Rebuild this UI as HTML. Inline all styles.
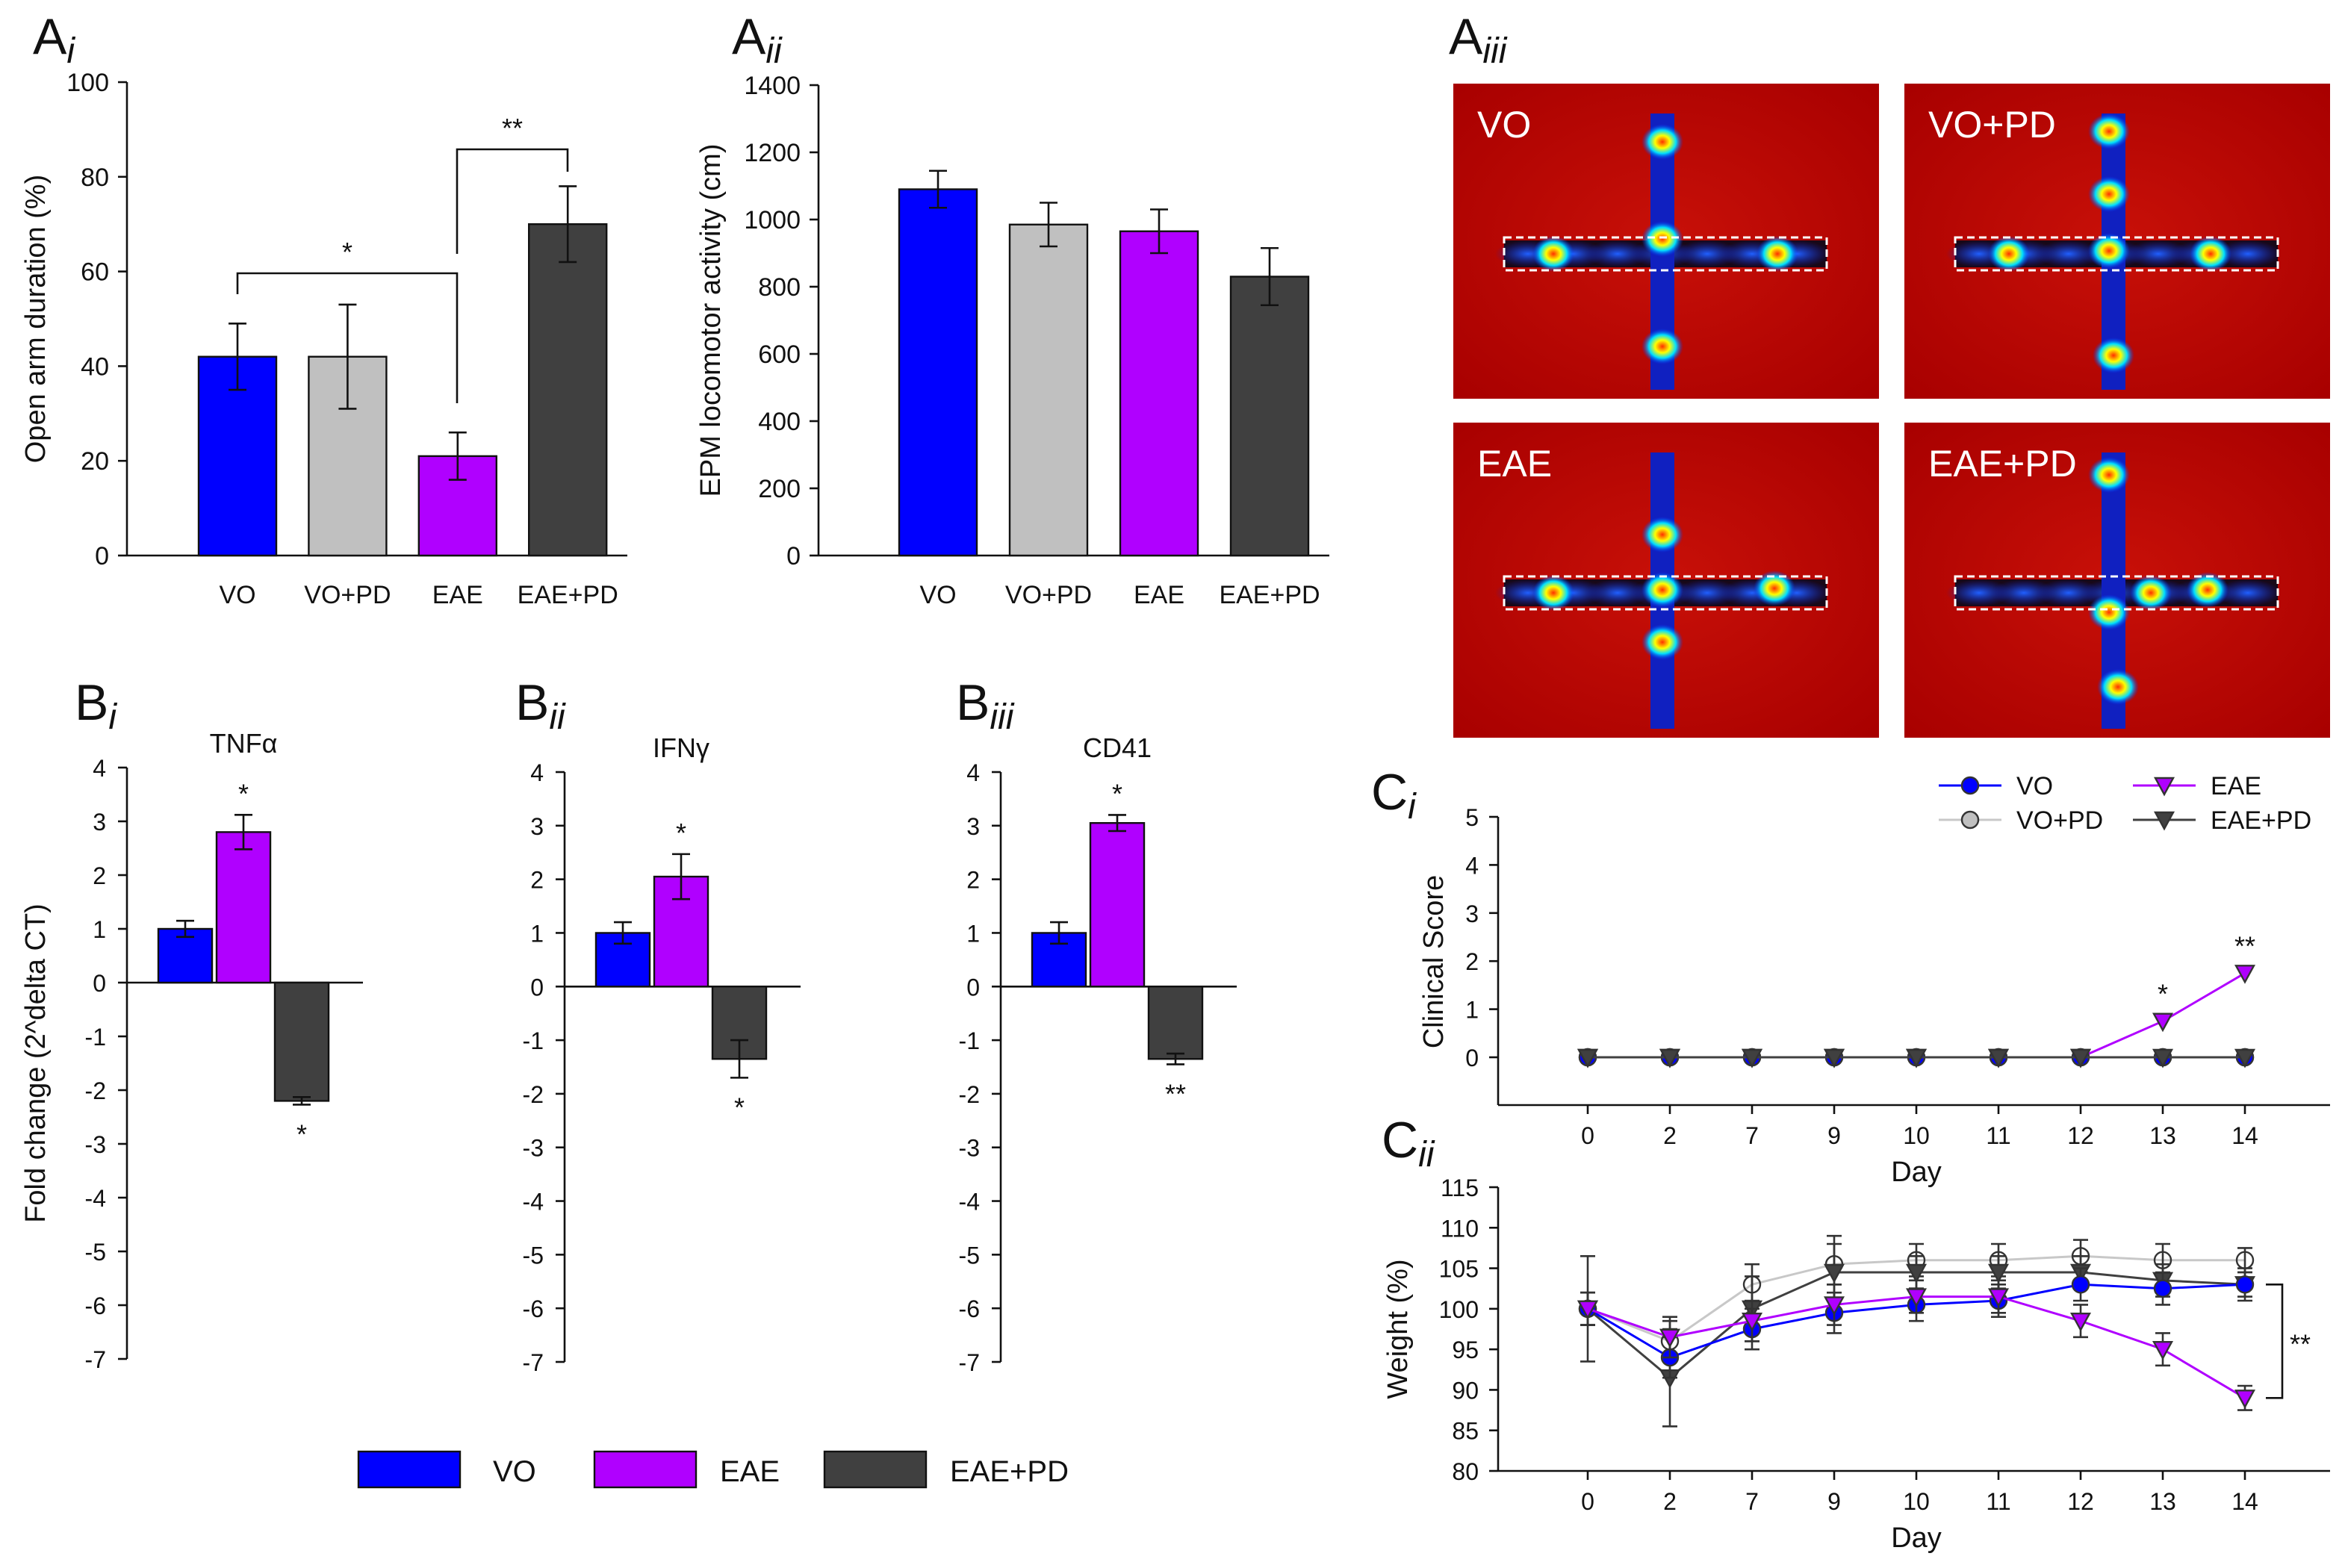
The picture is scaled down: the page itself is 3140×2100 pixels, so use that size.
<!DOCTYPE html>
<html><head><meta charset="utf-8"><style>
html,body{margin:0;padding:0;background:#fff}
svg{display:block}
text{font-family:"Liberation Sans",sans-serif;fill:#111}
</style></head><body>
<svg id="root" width="3140" height="2100" viewBox="0 0 1570 1050">
<defs>
<radialGradient id="redbg" cx="50%" cy="50%" r="70%"><stop offset="0" stop-color="#c81008"/><stop offset="1" stop-color="#a80000"/></radialGradient>
<radialGradient id="hot"><stop offset="0" stop-color="#ff3000"/><stop offset="0.35" stop-color="#ffff00"/><stop offset="0.65" stop-color="#00e0ff"/><stop offset="1" stop-color="#0030ff" stop-opacity="0"/></radialGradient>
<radialGradient id="blueblob"><stop offset="0" stop-color="#2060ff"/><stop offset="1" stop-color="#1020c0" stop-opacity="0"/></radialGradient>
</defs>
<g id="g"></g>
</svg>
<script>
const NS='http://www.w3.org/2000/svg';
const G=document.getElementById('g');
function mk(tag,attrs,parent,txt){const e=document.createElementNS(NS,tag);for(const k in attrs)e.setAttribute(k,attrs[k]);if(txt!==undefined)e.textContent=txt;(parent||G).appendChild(e);return e;}
const COL={VO:'#0000ff','VO+PD':'#c0c0c0',EAE:'#b000ff','EAE+PD':'#404040'};

// ---- data ----
const groupsA=['VO','VO+PD','EAE','EAE+PD'];
const openArm=[42,42,21,70];
const openArmErr=[7,11,5,8];
const openTicks=[0,20,40,60,80,100];
const loco=[1090,985,965,830];
const locoErr=[55,65,65,85];
const locoTicks=[0,200,400,600,800,1000,1200,1400];
const groupsB=['VO','EAE','EAE+PD'];
const tnf=[1,2.8,-2.2];
const tnfErr=[0.15,0.32,0.07];
const ifn=[1,2.05,-1.35];
const ifnErr=[0.2,0.42,0.35];
const cd41=[1,3.05,-1.35];
const cd41Err=[0.2,0.15,0.1];
const foldTicks=[4,3,2,1,0,-1,-2,-3,-4,-5,-6,-7];
const days=['0','2','7','9','10','11','12','13','14'];
const clinVO=[0,0,0,0,0,0,0,0,0];
const clinVOPD=[0,0,0,0,0,0,0,0,0];
const clinEAE=[0,0,0,0,0,0,0,0.75,1.75];
const clinEAEPD=[0,0,0,0,0,0,0,0,0];
const clinTicks=[0,1,2,3,4,5];
const wVO=[100,94,97.5,99.5,100.5,101,103,102.5,103];
const wVOPD=[100,96,103,105.5,106,106,106.5,106,106];
const wEAE=[100,96.5,98.5,100.5,101.5,101.5,98.5,95,89];
const wEAEPD=[100,91.5,100,104.5,104.5,104.5,104.5,103.5,103];
const wErr=[2,2.5,2.5,2.5,2,2,2,2,1.5];
const wErrPD=[6.5,6,4,4.5,2,2,2,2,2];
const wTicks=[80,85,90,95,100,105,110,115];

function panelLabel(x,y,main,sub,name){const t=mk('text',{x:x,y:y,'font-size':34,});t.textContent=main;mk('tspan',{'font-size':24,'font-style':'italic',dy:6},t,sub);return t;}

function errbar(x,y1,y2,w,color){mk('line',{x1:x,x2:x,y1:y1,y2:y2,stroke:color||'#111','stroke-width':1.3});mk('line',{x1:x-w,x2:x+w,y1:y1,y2:y1,stroke:color||'#111','stroke-width':1.3});mk('line',{x1:x-w,x2:x+w,y1:y2,y2:y2,stroke:color||'#111','stroke-width':1.3});}

function barPanel(o){
  const y=v=>o.y0-(v-o.vmin)/(o.vmax-o.vmin)*(o.y0-o.y1);
  mk('line',{x1:o.ax,x2:o.ax,y1:o.y1,y2:o.y0,stroke:'#111','stroke-width':1.3,});
  mk('line',{x1:o.ax,x2:o.xend,y1:o.y0,y2:o.y0,stroke:'#111','stroke-width':1.3,});
  o.ticks.forEach(t=>{mk('line',{x1:o.ax-6,x2:o.ax,y1:y(t),y2:y(t),stroke:'#111','stroke-width':1.3});
    const e=mk('text',{x:o.ax-12,y:y(t)+6,'text-anchor':'end','font-size':17},undefined,t);});
  o.vals.forEach((v,i)=>{const cx=o.cx0+i*o.dx;
    const r=mk('rect',{x:cx-o.bw/2,y:y(v),width:o.bw,height:o.y0-y(v),fill:COL[o.groups[i]],stroke:'#111','stroke-width':1.2});
    
    errbar(cx,y(v+o.err[i]),y(v-o.err[i]),6);
    const l=mk('text',{x:cx,y:o.y0+32,'text-anchor':'middle','font-size':17},undefined,o.groups[i]);
    });
  const tt=mk('text',{x:o.tx,y:(o.y0+o.y1)/2,'text-anchor':'middle','font-size':19,transform:`rotate(-90 ${o.tx} ${(o.y0+o.y1)/2})`},undefined,o.title);
  
  return y;
}
panelLabel(22,36,'A','i','panel-label-ai');
barPanel({name:'open-arm',ax:85,y0:372,y1:55,vmin:0,vmax:100,xend:420,ticks:openTicks,vals:openArm,err:openArmErr,groups:groupsA,cx0:159,dx:73.7,bw:52,tx:30,title:'Open arm duration (%)'});
function bracket(x1,x2,yy,d1,d2,lab){mk('path',{d:`M${x1},${d1} L${x1},${yy} L${x2},${yy} L${x2},${d2}`,fill:'none',stroke:'#111','stroke-width':1.3,});mk('text',{x:(x1+x2)/2,y:yy-8,'text-anchor':'middle','font-size':18,},undefined,lab);}
bracket(159,306,183,197,270,'*');
bracket(306,380,100,170,115,'**');

panelLabel(490,36,'A','ii','panel-label-aii');
barPanel({name:'locomotor',ax:548,y0:372,y1:57,vmin:0,vmax:1400,xend:890,ticks:locoTicks,vals:loco,err:locoErr,groups:groupsA,cx0:628,dx:74,bw:52,tx:482,title:'EPM locomotor activity (cm)'});

panelLabel(970,36,'A','iii','panel-label-aiii');
const maps=[{l:'VO',x:973,y:56,spots:[[1113,95],[1113,160],[1040,170],[1190,170],[1113,232]]},
{l:'VO+PD',x:1275,y:56,spots:[[1412,88],[1412,130],[1345,170],[1412,168],[1480,170],[1415,238]]},
{l:'EAE',x:973,y:283,spots:[[1113,358],[1040,397],[1113,395],[1188,394],[1113,430]]},
{l:'EAE+PD',x:1275,y:283,spots:[[1412,318],[1440,397],[1478,395],[1412,410],[1418,460]]}];
maps.forEach(m=>{const g=mk('g',{});
  mk('rect',{x:m.x,y:m.y,width:285,height:211,fill:'url(#redbg)'},g);
  const cx=m.x+140,cy=m.y+114;
  mk('rect',{x:m.x+34,y:cy-9,width:216,height:18,fill:'#180818'},g);
  for(let k=0;k<7;k++)mk('ellipse',{cx:m.x+50+k*30,cy:cy,rx:22,ry:9,fill:'url(#blueblob)'},g);
  mk('rect',{x:cx-8,y:m.y+20,width:16,height:185,fill:'#1020c0'},g);
  m.spots.forEach(s=>mk('ellipse',{cx:s[0],cy:s[1],rx:14,ry:12,fill:'url(#hot)'},g));
  mk('rect',{x:m.x+34,y:cy-11,width:216,height:22,fill:'none',stroke:'#fff','stroke-width':1.5,'stroke-dasharray':'5,3'},g);
  mk('text',{x:m.x+16,y:m.y+36,'font-size':25,style:'fill:#fff'},g,m.l);});

function foldPanel(o){
  const y0=o.ytop,y1=o.ybot;const y=v=>y0+(4-v)/11*(y1-y0);
  mk('line',{x1:o.ax,x2:o.ax,y1:y0,y2:y1,stroke:'#111','stroke-width':1.3,});
  mk('line',{x1:o.ax,x2:o.ax+158,y1:y(0),y2:y(0),stroke:'#111','stroke-width':1.3,});
  foldTicks.forEach(t=>{mk('line',{x1:o.ax-6,x2:o.ax,y1:y(t),y2:y(t),stroke:'#111','stroke-width':1.3});
    const e=mk('text',{x:o.ax-14,y:y(t)+6,'text-anchor':'end','font-size':16},undefined,t);});
  o.vals.forEach((v,i)=>{const cx=o.ax+39+i*39;const top=Math.min(y(v),y(0)),h=Math.abs(y(v)-y(0));
    const r=mk('rect',{x:cx-18,y:top,width:36,height:h,fill:COL[groupsB[i]],stroke:'#111','stroke-width':1.2});
    
    errbar(cx,y(v+o.err[i]),y(v-o.err[i]),6);});
  o.stars.forEach(s=>{const v=o.vals[s[0]],cx=o.ax+39+s[0]*39;const yy=v>0?y(v+o.err[s[0]])-8:y(v-o.err[s[0]])+26;
    mk('text',{x:cx,y:yy,'text-anchor':'middle','font-size':18,},undefined,s[1]);});
  mk('text',{x:o.ax+78,y:o.ytop-10,'text-anchor':'middle','font-size':18,},undefined,o.title);
}
panelLabel(50,482,'B','i','panel-label-bi');
panelLabel(345,482,'B','ii','panel-label-bii');
panelLabel(640,482,'B','iii','panel-label-biii');
foldPanel({name:'tnf',ax:85,ytop:514,ybot:910,vals:tnf,err:tnfErr,stars:[[1,'*'],[2,'*']],title:'TNFα'});
foldPanel({name:'ifn',ax:378,ytop:517,ybot:912,vals:ifn,err:ifnErr,stars:[[1,'*'],[2,'*']],title:'IFNγ'});
foldPanel({name:'cd41',ax:670,ytop:517,ybot:912,vals:cd41,err:cd41Err,stars:[[1,'*'],[2,'**']],title:'CD41'});
mk('text',{x:30,y:712,'text-anchor':'middle','font-size':19,transform:'rotate(-90 30 712)',},undefined,'Fold change (2^delta CT)');
[['VO',240,330],['EAE',398,482],['EAE+PD',552,636]].forEach(l=>{const g=mk('g',{});
  mk('rect',{x:l[1],y:972,width:68,height:24,fill:COL[l[0]],stroke:'#111','stroke-width':1.2},g);
  mk('text',{x:l[2],y:992,'font-size':20},g,l[0]);});

const xd=i=>1063+i*55;
function marker(x,y,type,fill,name){let e;if(type==='c')e=mk('circle',{cx:x,cy:y,r:5.5,fill:fill,stroke:'#333','stroke-width':1.2});
  else e=mk('path',{d:`M${x-6},${y-5} L${x+6},${y-5} L${x},${y+6} Z`,fill:fill,stroke:'#333','stroke-width':1.2});
  return e;}
const series=[
 {n:'VO',c:'#0000ff',m:'c',f:'#0000ff',lc:'#0000ff'},
 {n:'VO+PD',c:'#c0c0c0',m:'c',f:'#c0c0c0',lc:'#c8c8c8'},
 {n:'EAE',c:'#b000ff',m:'t',f:'#b000ff',lc:'#b000ff'},
 {n:'EAE+PD',c:'#404040',m:'t',f:'#404040',lc:'#404040'}];
function xAxisDays(yAx){mk('line',{x1:1003,x2:1560,y1:yAx,y2:yAx,stroke:'#111','stroke-width':1.3,});
  days.forEach((d,i)=>{mk('line',{x1:xd(i),x2:xd(i),y1:yAx,y2:yAx+6,stroke:'#111','stroke-width':1.3});
    const t=mk('text',{x:xd(i),y:yAx+26,'text-anchor':'middle','font-size':16},undefined,d);});
  mk('text',{x:1283,y:yAx+51,'text-anchor':'middle','font-size':19,},undefined,'Day');}
panelLabel(918,542,'C','i','panel-label-ci');
const yc=v=>708-v*32.2;
mk('line',{x1:1003,x2:1003,y1:547,y2:740,stroke:'#111','stroke-width':1.3,});
clinTicks.forEach(t=>{mk('line',{x1:997,x2:1003,y1:yc(t),y2:yc(t),stroke:'#111','stroke-width':1.3});
  const e=mk('text',{x:990,y:yc(t)+6,'text-anchor':'end','font-size':16},undefined,t);});
xAxisDays(740);
mk('text',{x:966,y:644,'text-anchor':'middle','font-size':19,transform:'rotate(-90 966 644)',},undefined,'Clinical Score');
const clin=[clinVO,clinVOPD,clinEAE,clinEAEPD];
[2,1,0,3].forEach(k=>{const s=series[k];const d=clin[k].map((v,i)=>(i?'L':'M')+xd(i)+','+yc(v)).join(' ');
  mk('path',{d:d,fill:'none',stroke:s.lc,'stroke-width':1.5,});
  clin[k].forEach((v,i)=>marker(xd(i),yc(v),s.m,s.f,'clinical-point'));});
mk('text',{x:xd(7),y:yc(clinEAE[7])-12,'text-anchor':'middle','font-size':18,},undefined,'*');
mk('text',{x:xd(8),y:yc(clinEAE[8])-12,'text-anchor':'middle','font-size':18,},undefined,'**');
[[0,1298,526],[1,1298,549],[2,1428,526],[3,1428,549]].forEach(l=>{const s=series[l[0]];const g=mk('g',{});
  mk('line',{x1:l[1],x2:l[1]+42,y1:l[2],y2:l[2],stroke:s.lc,'stroke-width':1.5},g);
  marker(l[1]+21,l[2],s.m,s.f,'legend-marker');
  mk('text',{x:l[1]+52,y:l[2]+6,'font-size':17},g,s.n);});

panelLabel(925,775,'C','ii','panel-label-cii');
const yw=v=>985-(v-80)/35*190;
mk('line',{x1:1003,x2:1003,y1:795,y2:985,stroke:'#111','stroke-width':1.3,});
wTicks.forEach(t=>{mk('line',{x1:997,x2:1003,y1:yw(t),y2:yw(t),stroke:'#111','stroke-width':1.3});
  const e=mk('text',{x:990,y:yw(t)+6,'text-anchor':'end','font-size':16},undefined,t);});
xAxisDays(985);
mk('text',{x:942,y:890,'text-anchor':'middle','font-size':19,transform:'rotate(-90 942 890)',},undefined,'Weight (%)');
const wt=[wVO,wVOPD,wEAE,wEAEPD];const we=[wErr,wErr,wErr,wErrPD];
[1,3,0,2].forEach(k=>{const s=series[k];const d=wt[k].map((v,i)=>(i?'L':'M')+xd(i)+','+yw(v)).join(' ');
  mk('path',{d:d,fill:'none',stroke:s.lc,'stroke-width':1.5,});
  wt[k].forEach((v,i)=>{errbar(xd(i),yw(v+we[k][i]),yw(v-we[k][i]),5,'#333');marker(xd(i),yw(v),s.m,k===1?'none':s.f,'weight-point');});});
mk('path',{d:`M1517,${yw(103)} L1528,${yw(103)} L1528,${yw(89)} L1517,${yw(89)}`,fill:'none',stroke:'#111','stroke-width':1.3,});
mk('text',{x:1533,y:yw(96)+8,'font-size':18,},undefined,'**');
</script>
</body></html>
